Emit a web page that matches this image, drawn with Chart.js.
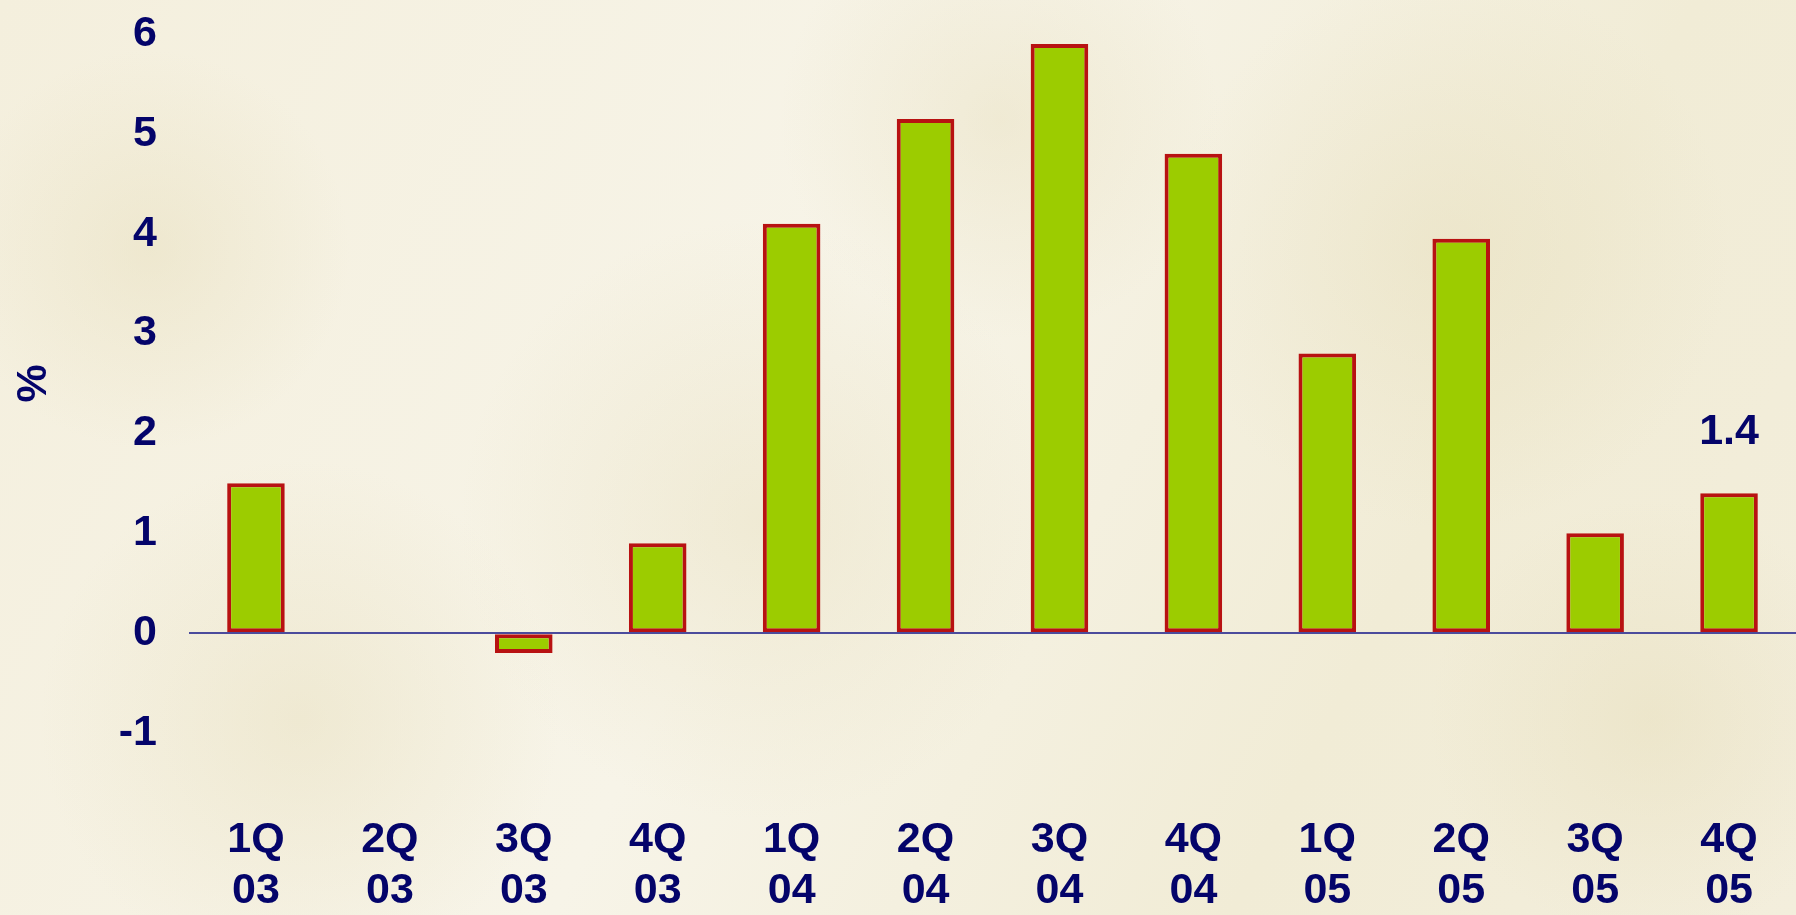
<!DOCTYPE html>
<html>
<head>
<meta charset="utf-8">
<script src="https://cdn.jsdelivr.net/npm/chart.js@4.4.1/dist/chart.umd.min.js"></script>
<style>
html,body{margin:0;padding:0;background:#f5f1e1;overflow:hidden;}
#wrap{width:1796px;height:915px;position:relative;}
</style>
</head>
<body>
<div id="wrap"><canvas id="c"></canvas></div>
<script>
const quarters = ['1Q','2Q','3Q','4Q','1Q','2Q','3Q','4Q','1Q','2Q','3Q','4Q'];
const years    = ['03','03','03','03','04','04','04','04','05','05','05','05'];
const values   = [1.5, 0, -0.2, 0.9, 4.1, 5.15, 5.9, 4.8, 2.8, 3.95, 1.0, 1.4];
const yTicks   = [-1, 0, 1, 2, 3, 4, 5, 6];
const labeledBars = [11];

const labels = quarters.map((q, i) => [q, years[i]]);
const navy = '#04046a';
const fontFam = '"Liberation Sans", Arial, sans-serif';
const FS = 43;

const bgPlugin = {
  id: 'bg',
  beforeDraw(chart) {
    const ctx = chart.ctx, w = chart.width, h = chart.height;
    ctx.save();
    const g = ctx.createLinearGradient(0, 0, w, h);
    g.addColorStop(0, '#f4efdd');
    g.addColorStop(0.45, '#f7f4e8');
    g.addColorStop(0.75, '#f1ecd6');
    g.addColorStop(1, '#f3eedc');
    ctx.fillStyle = g;
    ctx.fillRect(0, 0, w, h);
    const blobs = [[300,720,260],[760,520,300],[1450,250,280],[1650,720,220],[150,250,200],[1000,120,220]];
    blobs.forEach(([x,y,r]) => {
      const rg = ctx.createRadialGradient(x, y, 0, x, y, r);
      rg.addColorStop(0, 'rgba(226,216,176,0.35)');
      rg.addColorStop(1, 'rgba(226,216,176,0)');
      ctx.fillStyle = rg;
      ctx.fillRect(x - r, y - r, 2 * r, 2 * r);
    });
    ctx.restore();
  }
};

const labelPlugin = {
  id: 'valueLabels',
  afterDatasetsDraw(chart) {
    const ctx = chart.ctx;
    const meta = chart.getDatasetMeta(0);
    ctx.save();
    ctx.fillStyle = navy;
    ctx.font = 'bold ' + FS + 'px ' + fontFam;
    ctx.textAlign = 'center';
    ctx.textBaseline = 'middle';
    labeledBars.forEach(i => {
      const el = meta.data[i];
      ctx.fillText(values[i].toFixed(1), el.x, el.y - 61);
    });
    ctx.restore();
  }
};

new Chart(document.getElementById('c'), {
  type: 'bar',
  data: {
    labels: labels,
    datasets: [{
      data: values,
      backgroundColor: '#9ccc00',
      borderColor: '#b81212',
      borderWidth: 4,
      borderSkipped: false,
      categoryPercentage: 1.0,
      barPercentage: 0.43
    }]
  },
  options: {
    responsive: true,
    maintainAspectRatio: false,
    animation: false,
    events: [],
    layout: { padding: { left: 8, right: 0, top: 34, bottom: 0 } },
    plugins: { legend: { display: false }, tooltip: { enabled: false } },
    scales: {
      x: {
        afterFit(scale) { scale.height = 182; },
        grid: { display: false, drawTicks: true, tickLength: 79, tickColor: 'rgba(0,0,0,0)' },
        border: { display: false },
        ticks: {
          color: navy,
          font: { family: fontFam, size: FS, weight: 'bold', lineHeight: 51 / FS },
          padding: 3,
          maxRotation: 0,
          autoSkip: false
        }
      },
      y: {
        min: -1,
        max: 6,
        afterBuildTicks(scale) { scale.ticks = yTicks.map(v => ({ value: v })); },
        afterFit(scale) { scale.width = 181; },
        border: { display: false },
        grid: {
          z: 1,
          drawTicks: true,
          tickLength: 29,
          tickColor: 'rgba(0,0,0,0)',
          lineWidth: 2,
          color: ctx => (ctx.tick && ctx.tick.value === 0) ? '#4b4b9c' : 'rgba(0,0,0,0)'
        },
        ticks: {
          color: navy,
          font: { family: fontFam, size: FS, weight: 'bold' },
          padding: 3
        },
        title: {
          display: true,
          text: '%',
          color: navy,
          font: { family: fontFam, size: FS, weight: 'bold', lineHeight: 1.2 },
          padding: 0
        }
      }
    }
  },
  plugins: [bgPlugin, labelPlugin]
});
</script>
</body>
</html>
